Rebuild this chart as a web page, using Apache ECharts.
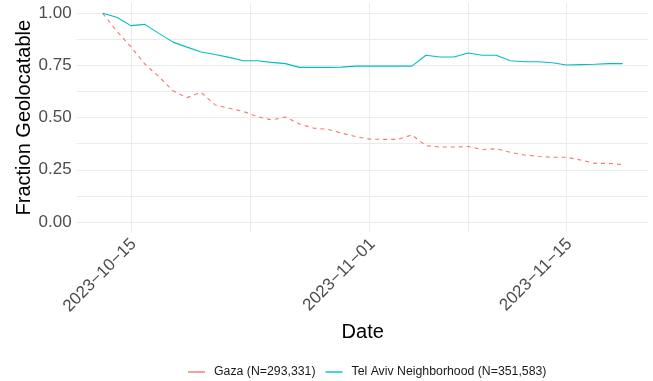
<!DOCTYPE html>
<html>
<head>
<meta charset="utf-8">
<script src="https://cdn.jsdelivr.net/npm/echarts@6/dist/echarts.min.js"></script>
<style>
  html, body { margin: 0; padding: 0; background: #fff; }
  #main { width: 653px; height: 381px; }
</style>
</head>
<body>
<div id="main"></div>
<script>
// daily dates, 2023-10-13 .. 2023-11-19
var dates = [
  '2023-10-13','2023-10-14','2023-10-15','2023-10-16','2023-10-17','2023-10-18','2023-10-19','2023-10-20',
  '2023-10-21','2023-10-22','2023-10-23','2023-10-24','2023-10-25','2023-10-26','2023-10-27','2023-10-28',
  '2023-10-29','2023-10-30','2023-10-31','2023-11-01','2023-11-02','2023-11-03','2023-11-04','2023-11-05',
  '2023-11-06','2023-11-07','2023-11-08','2023-11-09','2023-11-10','2023-11-11','2023-11-12','2023-11-13',
  '2023-11-14','2023-11-15','2023-11-16','2023-11-17','2023-11-18','2023-11-19'
];
var gazaVals = [
  1.000, 0.915, 0.840, 0.757, 0.696, 0.629, 0.596, 0.621,
  0.561, 0.545, 0.530, 0.505, 0.489, 0.503, 0.470, 0.450,
  0.444, 0.426, 0.409, 0.397, 0.396, 0.396, 0.417, 0.366,
  0.359, 0.359, 0.362, 0.347, 0.351, 0.334, 0.321, 0.315,
  0.310, 0.310, 0.297, 0.281, 0.281, 0.275
];
var telAvivVals = [
  1.000, 0.981, 0.941, 0.947, 0.904, 0.862, 0.838, 0.815,
  0.803, 0.789, 0.773, 0.773, 0.765, 0.759, 0.741, 0.741,
  0.741, 0.742, 0.747, 0.747, 0.747, 0.747, 0.747, 0.799,
  0.791, 0.791, 0.810, 0.799, 0.799, 0.773, 0.768, 0.768,
  0.763, 0.752, 0.754, 0.756, 0.759, 0.759
];
var seriesNames = ['Gaza (N=293,331)', 'Tel Aviv Neighborhood (N=351,583)'];
var xLabelDates = ['2023-10-15', '2023-11-01', '2023-11-15'];
var xMinorDates = ['2023-10-23T12:00:00', '2023-11-08'];
var yLabels = [0, 0.25, 0.5, 0.75, 1];
var yGrid = [0, 0.125, 0.25, 0.375, 0.5, 0.625, 0.75, 0.875, 1];

function d(s) {
  if (s.indexOf('T') < 0) s = s + 'T00:00:00';
  return +new Date(s);
}
var DAY = 86400000;

var gazaData = [], telData = [];
for (var i = 0; i < dates.length; i++) {
  gazaData.push([d(dates[i]), gazaVals[i]]);
  telData.push([d(dates[i]), telAvivVals[i]]);
}
var xMin = d(dates[0]) - 1.85 * DAY;
var xMax = d(dates[dates.length - 1]) + 1.85 * DAY;
var xLabelVals = xLabelDates.map(d);
var xGridVals = xLabelVals.concat(xMinorDates.map(d)).sort(function (a, b) { return a - b; });

var chart = echarts.init(document.getElementById('main'));
var option = {
  animation: false,
  backgroundColor: '#ffffff',
  grid: { left: 76.7, right: 4.3, top: 2.9, bottom: 148.6, containLabel: false },
  xAxis: {
    type: 'value',
    min: xMin,
    max: xMax,
    name: 'Date',
    nameLocation: 'middle',
    nameGap: 85,
    nameTextStyle: { fontSize: 20, color: '#000', fontFamily: 'Liberation Sans' },
    axisLine: { show: false },
    axisTick: { show: false, customValues: xGridVals },
    splitLine: { show: true, lineStyle: { color: '#EBEBEB', width: 1 } },
    axisLabel: {
      customValues: xLabelVals,
      rotate: 45,
      margin: 12,
      padding: [22, -4, 0, 0],
      fontSize: 17,
      color: '#4D4D4D',
      fontFamily: 'Liberation Sans',
      formatter: function (v) {
        var t = new Date(v);
        var m = t.getMonth() + 1, dd = t.getDate();
        return t.getFullYear() + '\u2212' + (m < 10 ? '0' + m : m) + '\u2212' + (dd < 10 ? '0' + dd : dd);
      }
    }
  },
  yAxis: {
    type: 'value',
    min: -0.05,
    max: 1.05,
    name: 'Fraction Geolocatable',
    nameLocation: 'middle',
    nameGap: 42,
    nameMoveOverlap: false,
    nameTextStyle: { fontSize: 20, color: '#000', fontFamily: 'Liberation Sans' },
    axisLine: { show: false },
    axisTick: { show: false, customValues: yGrid },
    splitLine: { show: true, lineStyle: { color: '#EBEBEB', width: 1 } },
    axisLabel: {
      customValues: yLabels,
      margin: 5,
      fontSize: 17,
      color: '#4D4D4D',
      fontFamily: 'Liberation Sans',
      formatter: function (v) { return v.toFixed(2); }
    }
  },
  legend: {
    top: 366,
    left: 188,
    padding: 0,
    icon: 'rect',
    itemWidth: 17,
    itemHeight: 1.4,
    itemGap: 10,
    textStyle: { fontSize: 12.3, color: '#1A1A1A', fontFamily: 'Liberation Sans', padding: [0, 0, 0, 4] },
    data: seriesNames
  },
  series: [
    {
      name: seriesNames[0],
      type: 'line',
      data: gazaData,
      symbol: 'none',
      color: '#F8766D',
      lineStyle: { width: 1.1, type: [4, 4] }
    },
    {
      name: seriesNames[1],
      type: 'line',
      data: telData,
      symbol: 'none',
      color: '#00BFC4',
      lineStyle: { width: 1.1 }
    }
  ]
};
chart.setOption(option);
</script>
</body>
</html>
